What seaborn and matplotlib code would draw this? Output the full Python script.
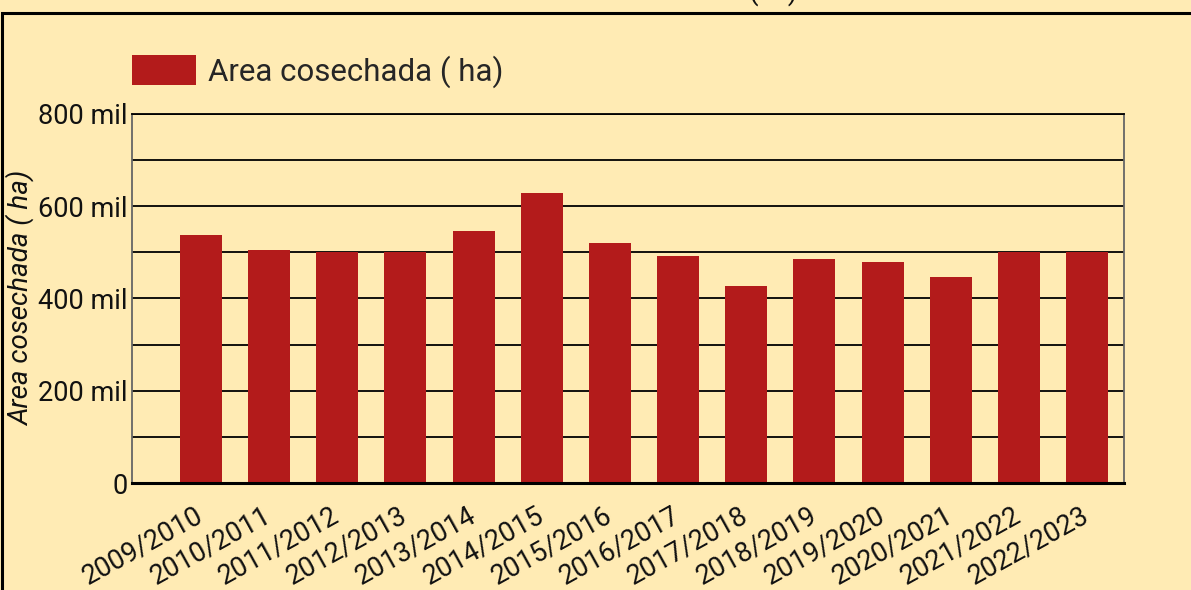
import matplotlib
matplotlib.use("Agg")
import matplotlib.pyplot as plt
import matplotlib.ticker as mticker
from matplotlib.patches import Rectangle
import pandas as pd
import seaborn as sns

# campañas y area cosechada (ha)
campanas = ["2009/2010", "2010/2011", "2011/2012", "2012/2013", "2013/2014",
            "2014/2015", "2015/2016", "2016/2017", "2017/2018", "2018/2019",
            "2019/2020", "2020/2021", "2021/2022", "2022/2023"]
area_ha = [537000, 506000, 500000, 500000, 546000, 628000, 520000,
           493000, 428000, 485000, 480000, 446000, 500000, 500000]
serie = "Area cosechada ( ha)"

BG = "#FFEBB4"
BAR = "#B31B1B"

sns.set_theme(style="white")
plt.rcParams["font.family"] = ["Roboto", "DejaVu Sans"]

df = pd.DataFrame({"campana": campanas, "area": area_ha})

fig = plt.figure(figsize=(11.91, 5.90), dpi=100, facecolor=BG)
ax = fig.add_axes([132 / 1191, 1 - 483 / 590, 992 / 1191, 369 / 590])
ax.set_facecolor(BG)

sns.barplot(data=df, x="campana", y="area", color=BAR, width=0.616,
            saturation=1, label=serie, linewidth=0, edgecolor=BAR, ax=ax)

ax.set_xlim(-1.01, 13.54)
ax.set_ylim(0, 800000)
ax.yaxis.set_major_locator(mticker.MultipleLocator(200000))
ax.yaxis.set_minor_locator(mticker.MultipleLocator(100000))
ax.yaxis.set_major_formatter(mticker.FuncFormatter(
    lambda v, p: "0" if v == 0 else f"{int(round(v / 1000))} mil"))
ax.grid(True, axis="y", which="both", color="black", linewidth=1.3)
ax.set_axisbelow(True)

ax.tick_params(axis="y", which="both", length=0, pad=3, labelsize=19.5, colors="#111111")
ax.tick_params(axis="x", length=0, pad=22, labelsize=19.5, colors="#111111")
for lab in ax.get_xticklabels():
    lab.set_rotation(29)
    lab.set_ha("right")
    lab.set_va("center")
    lab.set_rotation_mode("anchor")

for s in ["left", "right", "top"]:
    ax.spines[s].set_color("#666666")
    ax.spines[s].set_linewidth(1.3)
ax.spines["top"].set_color("black")
ax.spines["bottom"].set_color("black")
ax.spines["bottom"].set_linewidth(2.2)

ax.set_xlabel("")
ax.set_ylabel(serie, fontsize=20, style="italic", color="#111111")
ax.yaxis.set_label_coords(-0.098, 0.5)

ax.legend(loc="upper left", bbox_to_anchor=(132 / 1191, 1 - 55 / 590),
          bbox_transform=fig.transFigure, frameon=False, fontsize=22.5,
          handlelength=2.04, handleheight=1.12, handletextpad=0.38,
          borderpad=0, borderaxespad=0)

# marco exterior y titulo recortado
fig.add_artist(Rectangle((1.5 / 1191, -0.5), 1.5, 0.5 + 1 - 13 / 590,
                         transform=fig.transFigure, fill=False,
                         edgecolor="black", linewidth=2.2))
fig.text(773 / 1191, 1.0, "(ha)", ha="center", va="baseline", fontsize=20,
         color="#111111")

fig.savefig("out.png", dpi=100, facecolor=BG)
